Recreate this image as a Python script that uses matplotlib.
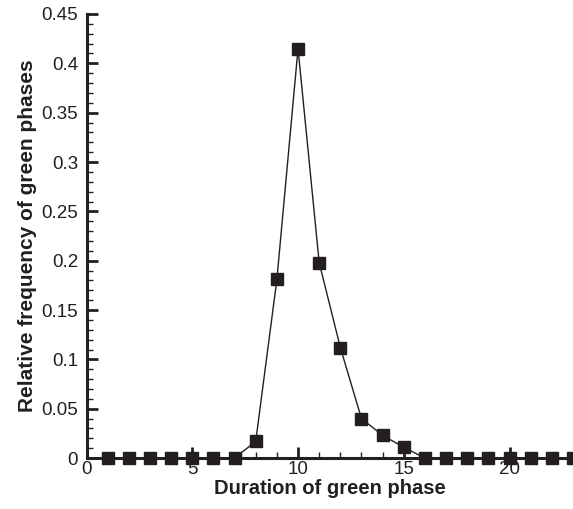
import matplotlib.pyplot as plt
from matplotlib.ticker import MultipleLocator, FuncFormatter

# Duration of green phase vs relative frequency
duration = list(range(1, 24))
freq = [0, 0, 0, 0, 0, 0, 0, 0.017, 0.181, 0.415, 0.198, 0.112,
        0.040, 0.023, 0.011, 0, 0, 0, 0, 0, 0, 0, 0]

plt.rcParams['font.family'] = ['Liberation Sans', 'DejaVu Sans']
ink = '#231f20'

fig = plt.figure(figsize=(5.73, 5.09), dpi=100)
ax = fig.add_axes([0.151, 0.100, 0.849, 0.8725])

ax.plot(duration, freq, color=ink, lw=1.0, marker='s', markersize=8.5,
        markerfacecolor=ink, markeredgecolor=ink, clip_on=False, zorder=3)

ax.set_xlim(0, 23)
ax.set_ylim(0, 0.45)
ax.xaxis.set_major_locator(MultipleLocator(5))
ax.xaxis.set_minor_locator(MultipleLocator(1))
ax.yaxis.set_major_locator(MultipleLocator(0.05))
ax.yaxis.set_minor_locator(MultipleLocator(0.01))
ax.yaxis.set_major_formatter(FuncFormatter(lambda v, p: '%g' % round(v, 3)))

for side in ['top', 'right']:
    ax.spines[side].set_visible(False)
for side in ['left', 'bottom']:
    ax.spines[side].set_linewidth(2.2)
    ax.spines[side].set_color(ink)

ax.tick_params(which='major', direction='in', length=8, width=2, color=ink,
               labelsize=13.5, labelcolor=ink)
ax.tick_params(axis='x', which='major', pad=2)
ax.tick_params(axis='y', which='major', pad=6)
ax.tick_params(which='minor', direction='in', length=4.5, width=1, color=ink)

ax.set_xlabel('Duration of green phase', fontsize=14.5, fontweight='bold',
              color=ink, labelpad=1)
ax.set_ylabel('Relative frequency of green phases', fontsize=15,
              fontweight='bold', color=ink, labelpad=3)

fig.savefig('out.png', dpi=100)
